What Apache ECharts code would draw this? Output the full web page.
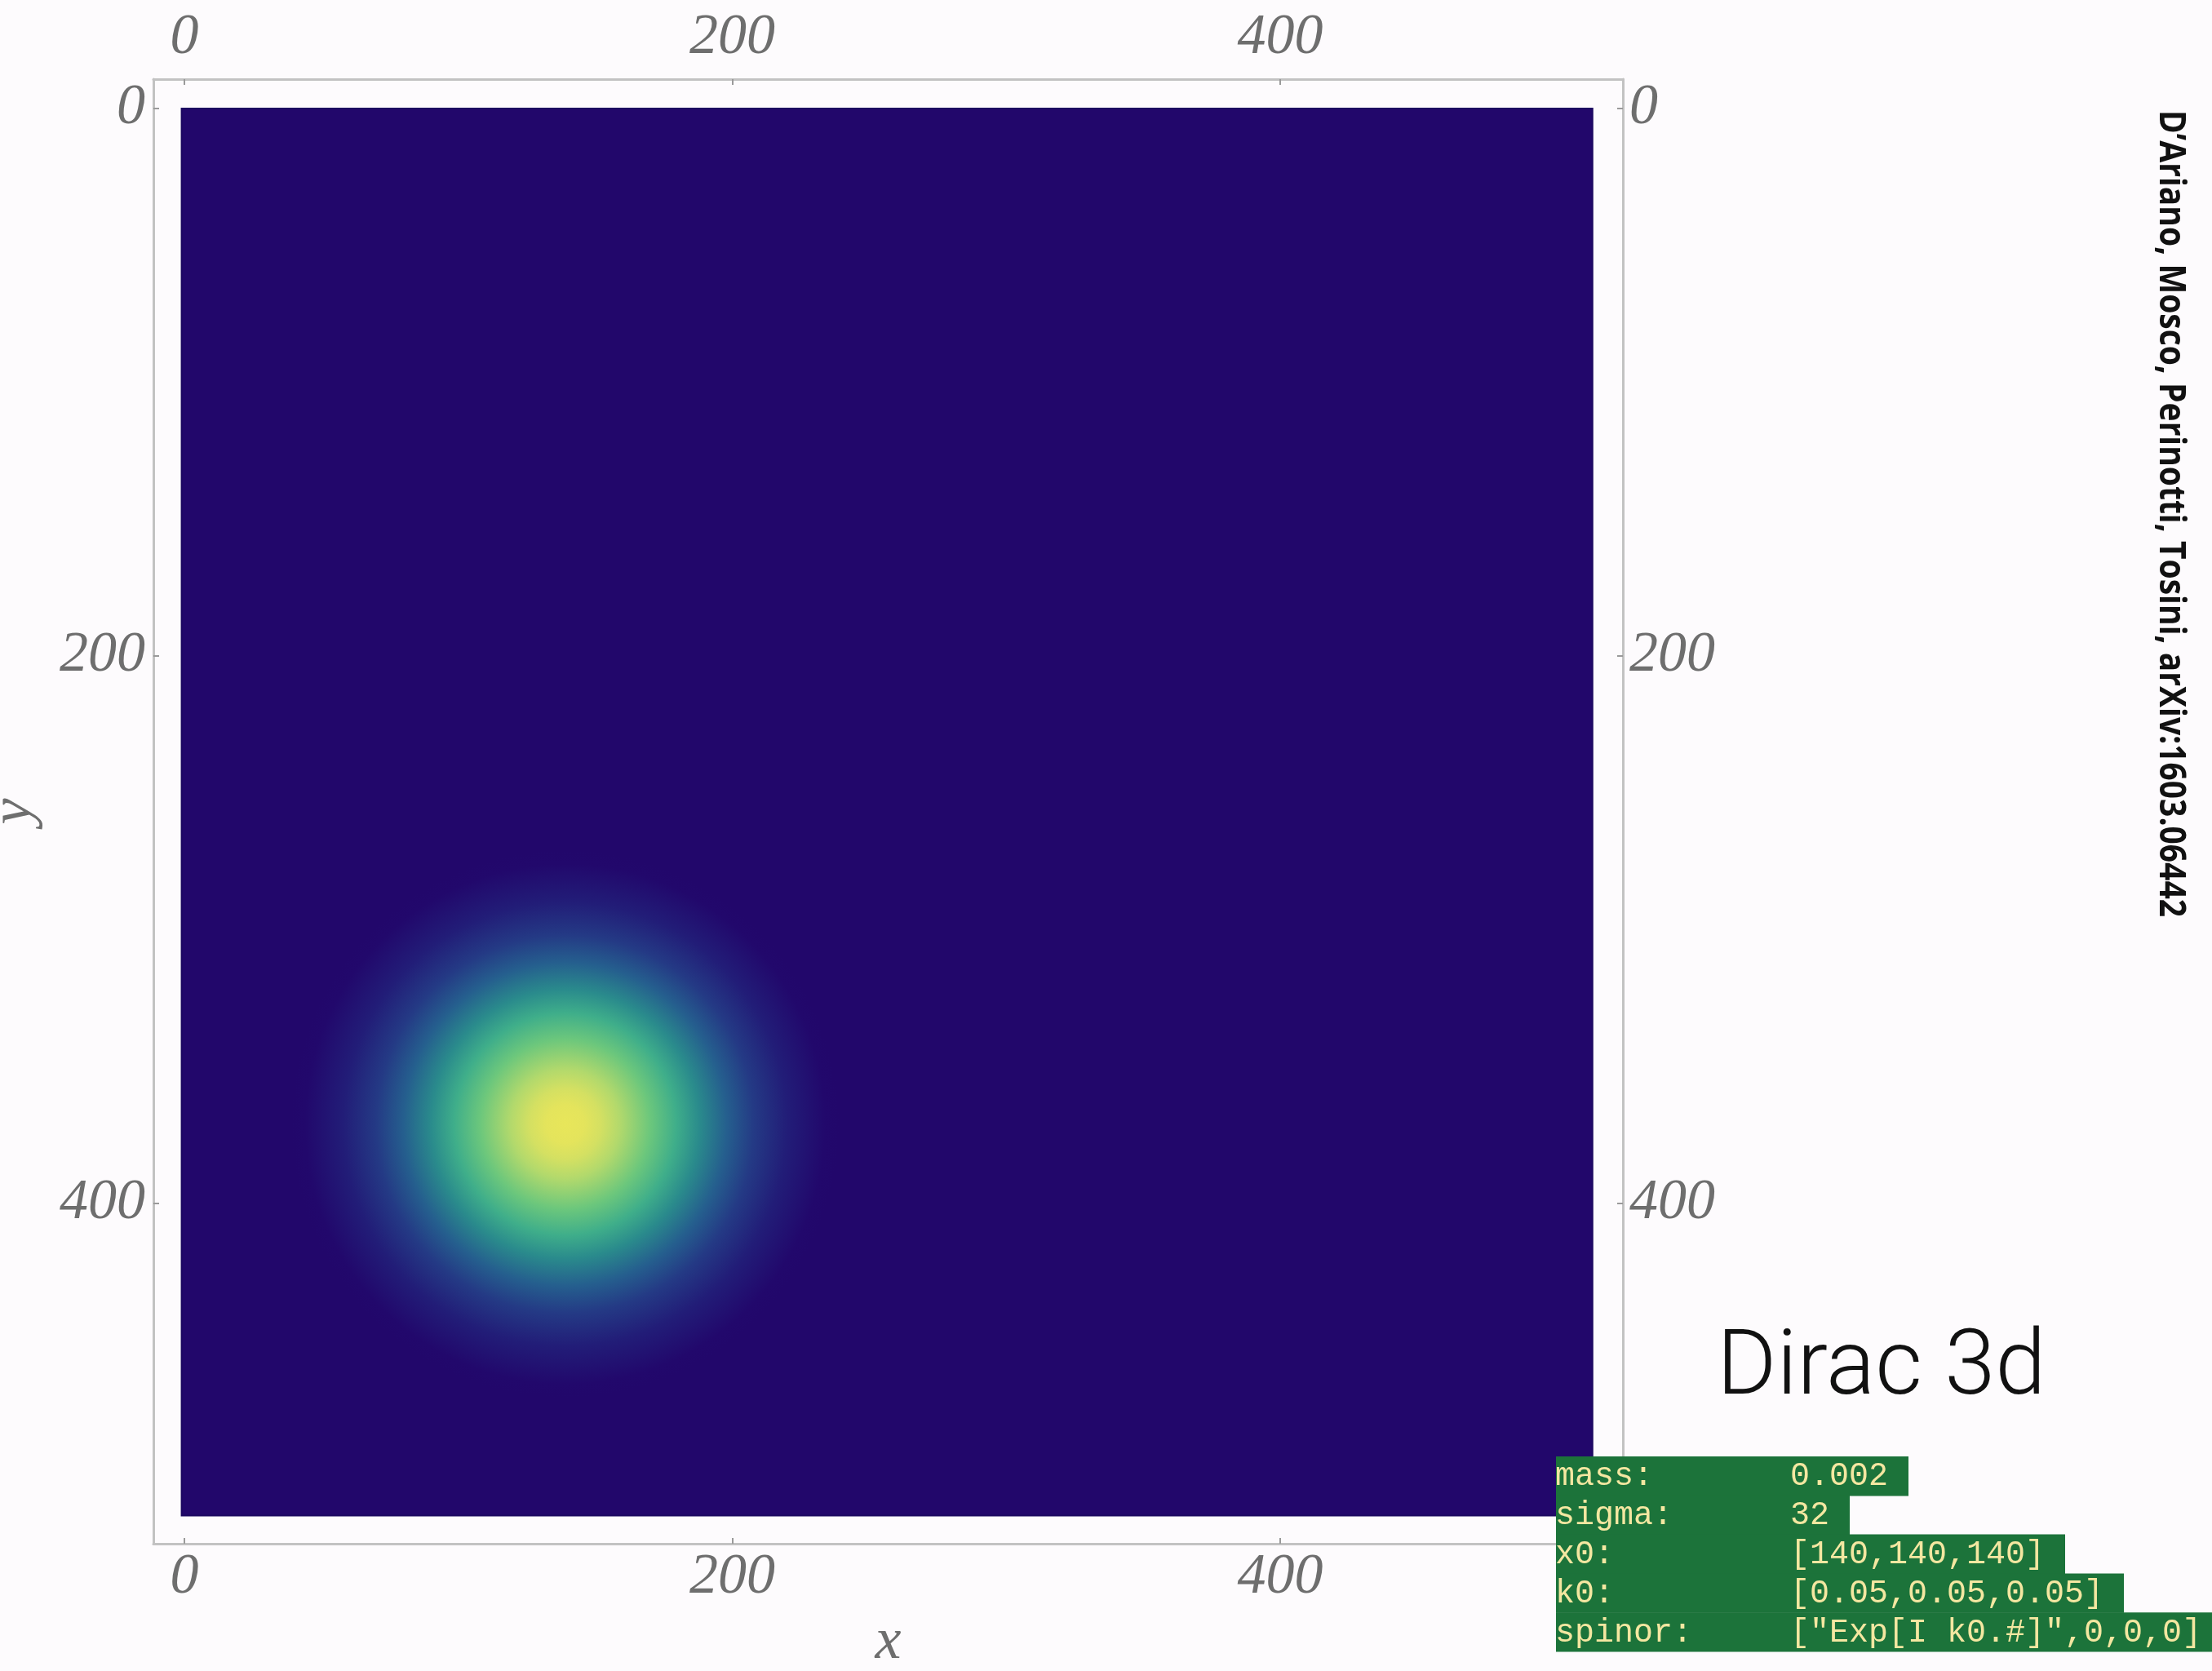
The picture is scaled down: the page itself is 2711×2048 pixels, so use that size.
<!DOCTYPE html>
<html>
<head>
<meta charset="utf-8">
<script src="https://cdn.jsdelivr.net/npm/echarts@6/dist/echarts.min.js"></script>
<style>
html,body{margin:0;padding:0;background:#fdfbfd;}
#c{width:2711px;height:2048px;}
</style>
</head>
<body>
<div id="c"></div>
<script>
// ---------- data ----------
const tickValues = [0, 200, 400];
const xAxisName = 'x';
const yAxisName = 'y';
const plotExtentX = [-1, 514];      // lattice extent shown in the density plot
const plotExtentY = [0, 514];
const blobCenter = [139, 371];      // peak of |psi|^2 in axis units (y counted downward)
const blobRadius = 100;             // radius where density fades into background
const title = 'Dirac 3d';
const citation = 'D\u2019Ariano, Mosco, Perinotti, Tosini, arXiv:1603.06442';
const paramLabels = ['mass:', 'sigma:', 'x0:', 'k0:', 'spinor:'];
const paramValues = ['0.002', '32', '[140,140,140]', '[0.05,0.05,0.05]', '["Exp[I k0.#]",0,0,0]'];

// ---------- style ----------
const frameBox = {left: 188, top: 97, width: 1801, height: 1795};
const xRange = [-11.3, 525.1];
const yRange = [-10.7, 524.3];
const bgColor = '#22076b';
const blobStops = [
  [0.000, '#e8e65a'],
  [0.070, '#e4e45c'],
  [0.130, '#d4e062'],
  [0.200, '#b2d96c'],
  [0.310, '#6cc77c'],
  [0.405, '#3fae8a'],
  [0.490, '#2a8b8c'],
  [0.590, '#255f8e'],
  [0.690, '#243a85'],
  [0.810, '#221d78'],
  [0.950, '#22086c'],
  [1.000, '#22076b']
];
const grayText = '#6e6e6e';
const labelFont = {fontFamily: 'Liberation Serif', fontStyle: 'italic', fontSize: 70, color: grayText};

function makeAxis(position, range, extra) {
  return Object.assign({
    type: 'value',
    position: position,
    min: range[0],
    max: range[1],
    axisLine: {show: true, onZero: false, lineStyle: {color: '#c2c2c2', width: 3}},
    axisTick: {show: true, inside: true, length: 7, customValues: tickValues,
               lineStyle: {color: '#9a9a9a', width: 2}},
    axisLabel: Object.assign({customValues: tickValues}, labelFont),
    splitLine: {show: false},
    splitArea: {show: false}
  }, extra || {});
}

const chart = echarts.init(document.getElementById('c'), null, {renderer: 'canvas', width: 2711, height: 2048});

// measure citation width to condense it to the reference length
const mctx = document.createElement('canvas').getContext('2d');
const citeFont = '700 44px "Open Sans"';
mctx.font = citeFont;
const citeW = mctx.measureText(citation).width;
const citeScale = 989 / citeW;

const charW = 24;
const lineH = 47.8;
const boxX = 1907;
const boxY = 1785;
const graphics = [];
paramLabels.forEach(function (lab, i) {
  const line = lab.padEnd(12, ' ') + paramValues[i];
  graphics.push({
    type: 'rect', silent: true, z: 100,
    shape: {x: boxX, y: boxY + i * lineH, width: (line.length + 1) * charW, height: lineH + 0.6},
    style: {fill: '#1c733a'}
  });
  graphics.push({
    type: 'text', silent: true, z: 101,
    style: {
      text: line, x: boxX - 1, y: boxY + i * lineH + lineH / 2 + 1,
      font: '40px "Liberation Mono"', fill: '#f4e7a1',
      align: 'left', verticalAlign: 'middle', textAlign: 'left', textVerticalAlign: 'middle'
    }
  });
});
graphics.push({
  type: 'text', silent: true, z: 101,
  style: {
    text: title, x: 2104, y: 1680,
    font: '300 112px Roboto', fill: '#111111',
    align: 'left', verticalAlign: 'middle', textAlign: 'left', textVerticalAlign: 'middle'
  }
});
graphics.push({
  type: 'text', silent: true, z: 101,
  x: 2660, y: 135, rotation: -Math.PI / 2, scaleX: citeScale, scaleY: 1,
  style: {
    text: citation, x: 0, y: 0,
    font: citeFont, fill: '#111111',
    align: 'left', verticalAlign: 'middle', textAlign: 'left', textVerticalAlign: 'middle'
  }
});

const option = {
  animation: false,
  backgroundColor: '#fdfbfd',
  grid: Object.assign({outerBoundsMode: 'none', containLabel: false}, frameBox),
  xAxis: [
    makeAxis('bottom', xRange, {
      name: xAxisName, nameLocation: 'middle', nameGap: 85,
      nameTextStyle: {fontFamily: 'Liberation Serif', fontStyle: 'italic', fontSize: 72, color: grayText},
      axisLabel: Object.assign({customValues: tickValues, margin: 7}, labelFont)
    }),
    makeAxis('top', xRange, {
      axisLabel: Object.assign({customValues: tickValues, margin: 15}, labelFont)
    })
  ],
  yAxis: [
    makeAxis('left', yRange, {
      inverse: true,
      name: yAxisName, nameLocation: 'middle', nameGap: 134,
      nameTextStyle: {fontFamily: 'Liberation Serif', fontStyle: 'italic', fontSize: 72, color: grayText},
      axisLabel: Object.assign({customValues: tickValues, margin: 10}, labelFont)
    }),
    makeAxis('right', yRange, {
      inverse: true,
      axisLabel: Object.assign({customValues: tickValues, margin: 8}, labelFont)
    })
  ],
  series: [
    {
      type: 'custom', xAxisIndex: 0, yAxisIndex: 0, silent: true, z: 1,
      data: [[plotExtentX[0], plotExtentY[0], plotExtentX[1], plotExtentY[1]]],
      renderItem: function (params, api) {
        const p0 = api.coord([api.value(0), api.value(1)]);
        const p1 = api.coord([api.value(2), api.value(3)]);
        return {
          type: 'rect',
          shape: {x: Math.min(p0[0], p1[0]), y: Math.min(p0[1], p1[1]),
                  width: Math.abs(p1[0] - p0[0]), height: Math.abs(p1[1] - p0[1])},
          style: {fill: bgColor, stroke: '#1b0860', lineWidth: 2}
        };
      }
    },
    {
      type: 'custom', xAxisIndex: 0, yAxisIndex: 0, silent: true, z: 2,
      data: [[blobCenter[0], blobCenter[1], blobRadius]],
      renderItem: function (params, api) {
        const c = api.coord([api.value(0), api.value(1)]);
        const r = api.size([api.value(2), 0])[0];
        return {
          type: 'circle',
          shape: {cx: c[0], cy: c[1], r: r},
          style: {fill: new echarts.graphic.RadialGradient(0.5, 0.5, 0.5,
            blobStops.map(function (s) { return {offset: s[0], color: s[1]}; }))}
        };
      }
    }
  ],
  graphic: graphics
};
chart.setOption(option);
</script>
</body>
</html>
